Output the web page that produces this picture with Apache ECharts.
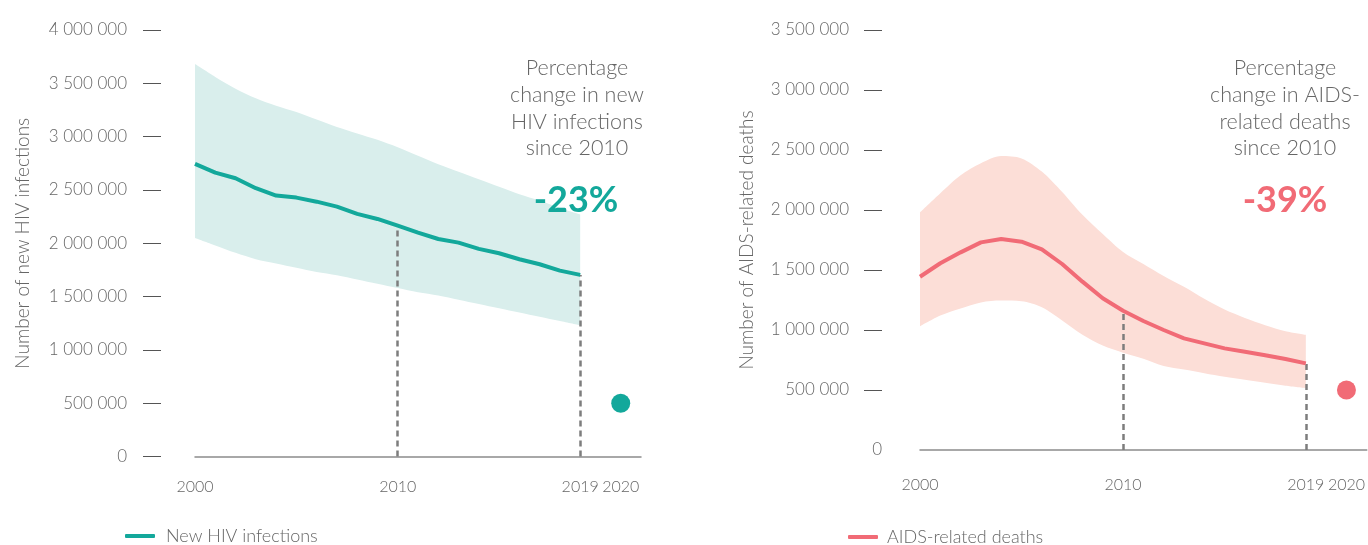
<!DOCTYPE html>
<html>
<head>
<meta charset="utf-8">
<script src="https://cdn.jsdelivr.net/npm/echarts@6/dist/echarts.min.js"></script>
<style>html,body{margin:0;padding:0;background:#fff}#c{width:1368px;height:545px}</style>
</head>
<body>
<div id="c"></div>
<script>
// ---- data ----
const years = ['2000','2001','2002','2003','2004','2005','2006','2007','2008','2009',
               '2010','2011','2012','2013','2014','2015','2016','2017','2018','2019'];
const xCategories = [...years, '', '2020', ''];      // blank slots separate the 2020 target
const labelYears = ['2000', '2010', '2019', '2020'];
const markYears = ['2010', '2019'];

const hivEstimate = [2744000,2662000,2610000,2516000,2447000,2428000,2390000,2343000,2275000,2228000,
                     2165000,2100000,2040000,2006000,1947000,1906000,1850000,1803000,1743000,1703000];
const hivLower    = [2050000,1980000,1910000,1850000,1810000,1770000,1730000,1700000,1660000,1620000,
                     1580000,1540000,1510000,1470000,1430000,1390000,1350000,1310000,1270000,1230000];
const hivUpper    = [3680000,3560000,3450000,3360000,3290000,3230000,3160000,3090000,3030000,2970000,
                     2900000,2820000,2740000,2670000,2600000,2530000,2460000,2400000,2330000,2270000];
const hivTarget2020 = 500000;

const deathsEstimate = [1444000,1556000,1647000,1730000,1758000,1736000,1672000,1550000,1403000,1264000,
                        1161000,1075000,1000000,930000,889000,847000,819000,790000,758000,722000];
const deathsLower    = [1030000,1120000,1180000,1230000,1245000,1240000,1190000,1080000,960000,870000,
                        810000,760000,700000,670000,640000,610000,585000,560000,535000,515000];
const deathsUpper    = [1980000,2140000,2290000,2390000,2450000,2430000,2320000,2150000,1960000,1800000,
                        1650000,1550000,1450000,1360000,1260000,1170000,1100000,1040000,990000,960000];
const deathsTarget2020 = 500000;

const hivTicks = [0,500000,1000000,1500000,2000000,2500000,3000000,3500000,4000000];
const deathsTicks = [0,500000,1000000,1500000,2000000,2500000,3000000,3500000];

const hivChange = '-23%';
const deathsChange = '-39%';
const hivNote = 'Percentage\nchange in new\nHIV infections\nsince 2010';
const deathsNote = 'Percentage\nchange in AIDS-\nrelated deaths\nsince 2010';

// ---- styles ----
const FONT = 'Lato, "Noto Sans", sans-serif';
const TXT = '#666666';
const TEAL = '#13a89b', TEAL_BAND = '#d9eeec';
const CORAL = '#f16b76', CORAL_BAND = '#fcded7';

const fmt = v => String(v).replace(/\B(?=(\d{3})+(?!\d))/g, ' ');
const diff = (u, l) => u.map((v, i) => v - l[i]);

function xAxisFor(gridIndex, offset) {
  return {
    type: 'category', gridIndex, data: xCategories, boundaryGap: false, offset,
    axisLine: {show: true, lineStyle: {color: '#8c8c8c', width: 1.5}},
    axisTick: {show: false},
    splitLine: {show: false},
    axisLabel: {
      color: TXT, fontSize: 16, fontWeight: 300, fontFamily: FONT, margin: 22,
      interval: (i, v) => labelYears.includes(v)
    }
  };
}
function yAxisFor(gridIndex, max, ticks, tickValues, name, offset, nameGap, gap, dashZero) {
  return {
    type: 'value', gridIndex, min: 0, max, interval: 500000, offset,
    name, nameLocation: 'middle', nameRotate: 90, nameGap,
    nameTextStyle: {color: TXT, fontSize: 19, fontWeight: 300, fontFamily: FONT},
    axisLine: {show: false},
    axisTick: {show: true, length: 18, customValues: tickValues, lineStyle: {color: '#555', width: 1}},
    splitLine: {show: false},
    axisLabel: {
      customValues: ticks, color: TXT, fontSize: 17, fontWeight: 300, fontFamily: FONT, margin: 0,
      formatter: v => (v === 0 && !dashZero) ? fmt(v) : fmt(v) + '{s| }',
      rich: {s: {width: gap, fontSize: 17}}
    }
  };
}
function bandSeries(idx, lower, upper, color, stack) {
  return [
    {type: 'line', xAxisIndex: idx, yAxisIndex: idx, stack, data: lower, symbol: 'none',
     smooth: 0.3, lineStyle: {opacity: 0}, silent: true},
    {type: 'line', xAxisIndex: idx, yAxisIndex: idx, stack, data: diff(upper, lower), symbol: 'none',
     smooth: 0.3, lineStyle: {opacity: 0}, areaStyle: {color, opacity: 1}, silent: true}
  ];
}
function mainSeries(idx, name, values, color) {
  return {
    type: 'line', name, xAxisIndex: idx, yAxisIndex: idx, data: values, symbol: 'none',
    lineStyle: {color, width: 4}, itemStyle: {color}, z: 5,
    markLine: {
      silent: true, symbol: 'none', label: {show: false},
      lineStyle: {color: '#7d7d7d', width: 2.5, type: [6, 4]},
      data: markYears.map(y => [
        {coord: [y, 0]},
        {coord: [y, values[years.indexOf(y)]]}
      ])
    }
  };
}
function targetSeries(idx, value, color) {
  return {type: 'scatter', xAxisIndex: idx, yAxisIndex: idx, data: [['2020', value]],
          symbolSize: 19, itemStyle: {color, opacity: 1}, z: 6};
}

const option = {
  animation: false,
  backgroundColor: '#fff',
  grid: [
    {left: 195, right: 727, top: 30, bottom: 88.5},
    {left: 920, right: 0, top: 30, bottom: 95}
  ],
  xAxis: [xAxisFor(0, 0), xAxisFor(1, 5)],
  yAxis: [
    yAxisFor(0, 4000000, hivTicks, hivTicks, 'Number of new HIV infections', 34, 129, 34, true),
    yAxisFor(1, 3500000, deathsTicks, deathsTicks.filter(v => v > 0), 'Number of AIDS-related deaths', 38, 126, 33, false)
  ],
  legend: [
    {data: ['New HIV infections'], left: 125, top: 527, padding: 0, icon: 'roundRect', itemWidth: 30, itemHeight: 4,
     textStyle: {color: TXT, fontSize: 18, fontWeight: 300, fontFamily: FONT, padding: [0, 0, 0, 6]}},
    {data: ['AIDS-related deaths'], left: 848, top: 528, padding: 0, icon: 'roundRect', itemWidth: 30, itemHeight: 4,
     textStyle: {color: TXT, fontSize: 18, fontWeight: 300, fontFamily: FONT, padding: [0, 0, 0, 4]}}
  ],
  series: [
    ...bandSeries(0, hivLower, hivUpper, TEAL_BAND, 'hivBand'),
    mainSeries(0, 'New HIV infections', hivEstimate, TEAL),
    targetSeries(0, hivTarget2020, TEAL),
    ...bandSeries(1, deathsLower, deathsUpper, CORAL_BAND, 'deathsBand'),
    mainSeries(1, 'AIDS-related deaths', deathsEstimate, CORAL),
    targetSeries(1, deathsTarget2020, CORAL)
  ],
  graphic: [
    {type: 'text', x: 577, y: 55, z: 10,
     style: {text: hivNote, textAlign: 'center', fill: TXT, font: '300 21.5px ' + FONT, lineHeight: 26.7}},
    {type: 'text', x: 576, y: 200, z: 10,
     style: {text: hivChange, textAlign: 'center', textVerticalAlign: 'middle', fill: TEAL, font: 'bold 36px ' + FONT}},
    {type: 'text', x: 1285, y: 55, z: 10,
     style: {text: deathsNote, textAlign: 'center', fill: TXT, font: '300 21.5px ' + FONT, lineHeight: 26.7}},
    {type: 'text', x: 1285, y: 200, z: 10,
     style: {text: deathsChange, textAlign: 'center', textVerticalAlign: 'middle', fill: CORAL, font: 'bold 36px ' + FONT}}
  ]
};

const chart = echarts.init(document.getElementById('c'), null, {renderer: 'canvas'});
chart.setOption(option);
</script>
</body>
</html>
